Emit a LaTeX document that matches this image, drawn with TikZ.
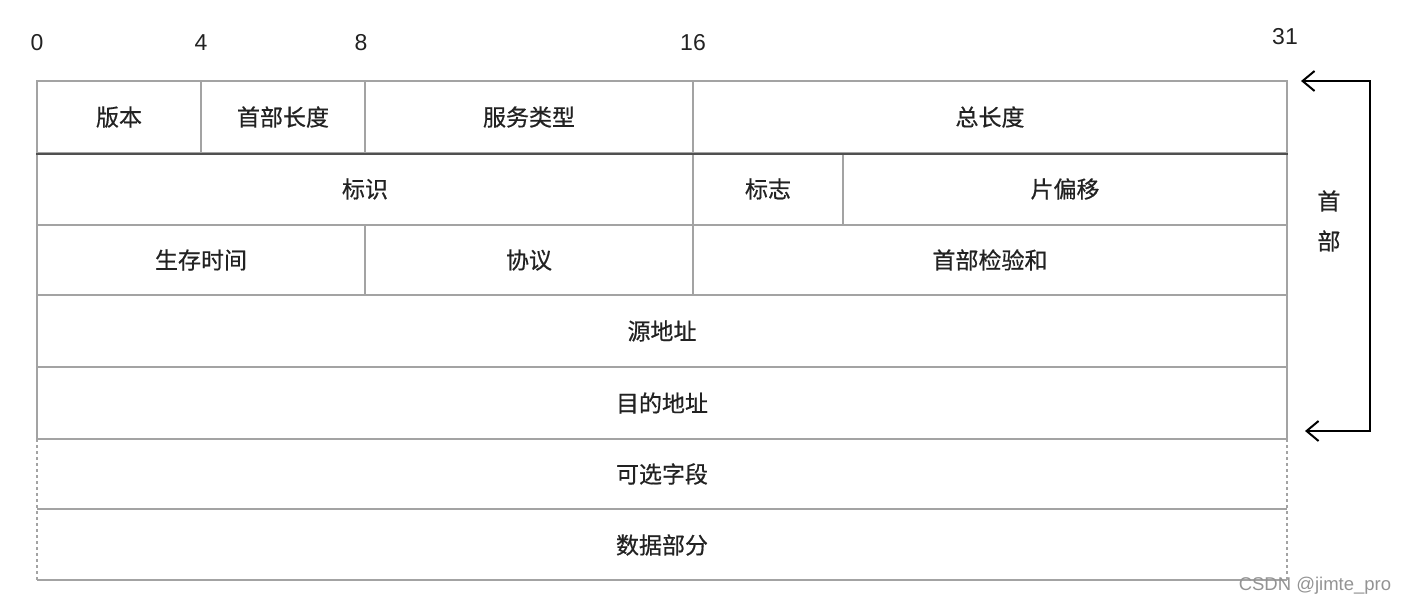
\documentclass[tikz,border=0pt]{standalone}
\usepackage{fontspec}
\setmainfont{Liberation Sans}
\newfontfamily\cjk[FakeBold=0.6]{Noto Sans CJK SC}
\usetikzlibrary{arrows.meta}
\definecolor{gridgray}{HTML}{A3A3A3}
\definecolor{darkline}{HTML}{505050}
\definecolor{txt}{HTML}{222222}
\begin{document}
\begin{tikzpicture}[x=1pt,y=-1pt,
  field/.style={draw=gridgray,line width=1.6pt,rectangle,inner sep=0pt,text=txt,
    font=\cjk\fontsize{23}{23}\selectfont},
  plain/.style={inner sep=0pt,text=txt,font=\cjk\fontsize{23}{23}\selectfont},
  bitnum/.style={inner sep=0pt,text=txt,font=\fontsize{23}{23}\selectfont},
  hline/.style={draw=gridgray,line width=1.6pt},
  dline/.style={draw=gridgray,line width=1.6pt,dash pattern=on 3pt off 3pt},
  bracket/.style={draw=black,line width=2pt,{Straight Barb[length=12pt,width=20pt,line width=2pt]}-{Straight Barb[length=12pt,width=20pt,line width=2pt]}}
]
\useasboundingbox (0,0) rectangle (1406,606);
% bit numbers
\node[bitnum] (b0) at (37,43) {0};
\node[bitnum] (b4) at (201,43) {4};
\node[bitnum] (b8) at (361,43) {8};
\node[bitnum] (b16) at (693,43) {16};
\node[bitnum] (b31) at (1285,37) {31};
% row 1
\node[field,minimum width=164pt,minimum height=72pt] (ver) at (119,117) {版本};
\node[field,minimum width=164pt,minimum height=72pt] (ihl) at (283,117) {首部长度};
\node[field,minimum width=328pt,minimum height=72pt] (tos) at (529,117) {服务类型};
\node[field,minimum width=594pt,minimum height=72pt] (len) at (990,117) {总长度};
% row 2
\node[field,minimum width=656pt,minimum height=72pt] (id) at (365,189) {标识};
\node[field,minimum width=150pt,minimum height=72pt] (flag) at (768,189) {标志};
\node[field,minimum width=444pt,minimum height=72pt] (off) at (1065,189) {片偏移};
% row 3
\node[field,minimum width=328pt,minimum height=70pt] (ttl) at (201,260) {生存时间};
\node[field,minimum width=328pt,minimum height=70pt] (proto) at (529,260) {协议};
\node[field,minimum width=594pt,minimum height=70pt] (chk) at (990,260) {首部检验和};
% row 4, 5
\node[field,minimum width=1250pt,minimum height=72pt] (src) at (662,331) {源地址};
\node[field,minimum width=1250pt,minimum height=72pt] (dst) at (662,403) {目的地址};
% dark separator between row 1 and row 2
\draw[draw=darkline,line width=1.6pt] (ver.south west) -- (len.south east);
% row 6, 7 with dashed sides
\node[plain] (opt) at (662,474) {可选字段};
\node[plain] (data) at (662,545) {数据部分};
\coordinate (oTL) at (37,439);
\coordinate (oTR) at (1287,439);
\coordinate (mL) at (37,509);
\coordinate (mR) at (1287,509);
\coordinate (bL) at (37,580);
\coordinate (bR) at (1287,580);
\draw[hline] (mL) -- (mR);
\draw[hline] (bL) -- (bR);
\draw[dline] (oTL) -- (bL);
\draw[dline] (oTR) -- (bR);
% header bracket
\coordinate (hT) at (1301,81);
\coordinate (hB) at (1305,431);
\draw[bracket] (hT) -- (1370,81) -- (1370,431) -- (hB);
\node[plain,align=center,font=\cjk\fontsize{23}{40}\selectfont] (hdr) at (1329,221) {首\\部};
% watermark
\node[inner sep=0pt,text=gray!85,font=\fontsize{18.5}{18.5}\selectfont] (wm) at (1315,586) {CSDN @jimte\_pro};
\end{tikzpicture}
\end{document}
